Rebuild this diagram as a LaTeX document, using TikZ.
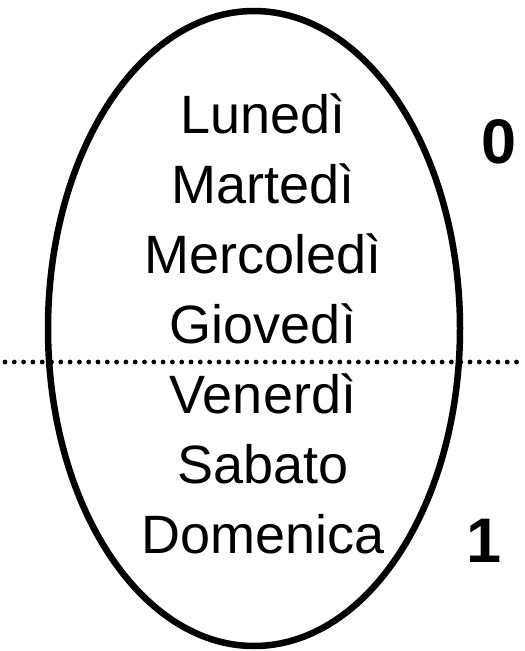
\documentclass[tikz,border=0pt]{standalone}
\usepackage{fontspec}
\setmainfont{Liberation Sans}
\begin{document}
\begin{tikzpicture}[x=1pt,y=-1pt,
  day/.style={font=\fontsize{54}{60}\selectfont, anchor=base, inner sep=0pt},
  bit/.style={font=\fontsize{63}{70}\selectfont\bfseries, anchor=base, inner sep=0pt},
  ring/.style={draw, line width=6.5pt},
  sep/.style={line width=4.8pt, line cap=round, dash pattern=on 0pt off 9.3pt}]
\useasboundingbox (0,0) rectangle (525,651);
\draw[ring] (254,328.5) ellipse [x radius=206, y radius=317.5];
\coordinate (l) at (5,362);
\coordinate (r) at (525,362);
\draw[sep] (l) -- (r);
\node[day] (d1) at (263,133) {Lunedì};
\node[day] (d2) at (263,203) {Martedì};
\node[day] (d3) at (263,273) {Mercoledì};
\node[day] (d4) at (263,343) {Giovedì};
\node[day] (d5) at (263,413) {Venerdì};
\node[day] (d6) at (263,483) {Sabato};
\node[day] (d7) at (263,553) {Domenica};
\node[bit] (b0) at (499,163) {0};
\node[bit] (b1) at (484,562) {1};
\end{tikzpicture}
\end{document}
